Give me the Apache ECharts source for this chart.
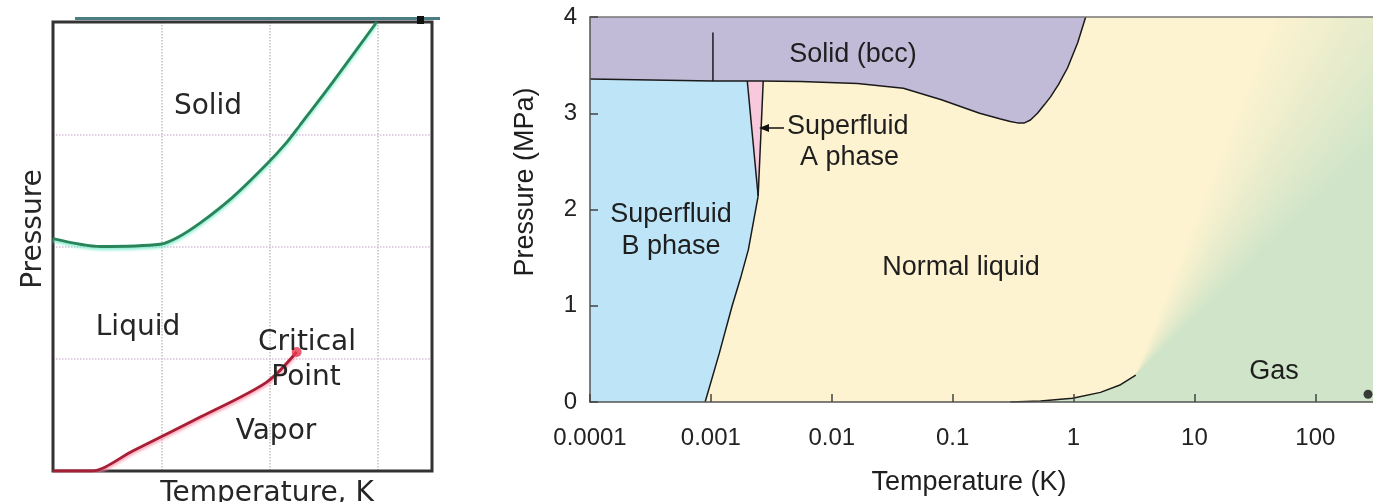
<!DOCTYPE html>
<html>
<head>
<meta charset="utf-8">
<script src="https://cdn.jsdelivr.net/npm/echarts@6/dist/echarts.min.js"></script>
<style>
html, body { margin: 0; padding: 0; background: #fff; }
#chart { width: 1373px; height: 502px; }
</style>
</head>
<body>
<div id="chart"></div>
<script>
// left panel: generic phase diagram (no units)
var fusionCurve = [[0, 2.07], [0.44, 2.0], [0.99, 2.02], [1.15, 2.08], [1.36, 2.21], [1.66, 2.44], [1.97, 2.73], [2.16, 2.93], [2.28, 3.08], [2.58, 3.46], [2.99, 4.0]];
var boilingCurve = [[0, 0], [0.35, 0], [0.74, 0.18], [1.36, 0.48], [1.97, 0.79], [2.25, 1.06]];
var criticalPoint = [[2.25, 1.06]];

// right panel: helium-3, T in K (log), P in MPa
var tempTicks = ['0.0001', '0.001', '0.01', '0.1', '1', '10', '100'];
var meltingCurve = [[0.0001, 3.356], [0.00104, 3.335], [0.00256, 3.335], [0.0055, 3.33], [0.0163, 3.31], [0.0391, 3.26], [0.0807, 3.14], [0.167, 3.0], [0.249, 2.94], [0.30, 2.915], [0.344, 2.90], [0.393, 2.90], [0.44, 2.93], [0.503, 3.0], [0.575, 3.09], [0.645, 3.17], [0.752, 3.30], [0.891, 3.47], [1.08, 3.73], [1.26, 4.0]];
var tcCurve = [[0.000896, 0], [0.00117, 0.5], [0.0015, 1.0], [0.00178, 1.31], [0.00204, 1.58], [0.00246, 2.14]];
var abCurve = [[0.00246, 2.14], [0.0020, 3.335]];
var tcUpper = [[0.00246, 2.14], [0.00271, 3.335]];
var vaporCurve = [[0.30, 0], [0.533, 0.01], [0.98, 0.04], [1.67, 0.10], [2.45, 0.18], [3.27, 0.28]];
var bccLine = [[0.00104, 3.335], [0.00104, 3.84]];
var roomPoint = [[273, 0.08]];

var tMin = 0.0001, tMax = 300;

var liquidPoly = [[tMin, 0], [tMax, 0], [tMax, 4], [tMin, 4]];
var solidPoly = [[tMin, 4], [1.26, 4]].concat(meltingCurve.slice().reverse());
var bPhasePoly = [[tMin, 0]].concat(tcCurve, [abCurve[1]], [[0.00104, 3.335], [tMin, 3.356]]);
var aPhasePoly = [abCurve[0], abCurve[1], tcUpper[1]];
var gasPoly = vaporCurve.concat([[vaporCurve[vaporCurve.length - 1][0], 0]]);

var yellow = [254, 243, 208], green = [207, 228, 200];

function mix(t) {
    var c = yellow.map(function (v, i) { return Math.round(v + (green[i] - v) * t); });
    return 'rgb(' + c.join(',') + ')';
}

function region(points, color) {
    return {
        type: 'custom', xAxisIndex: 1, yAxisIndex: 1, clip: true, silent: true, z: 2,
        data: [points[0]],
        renderItem: function (params, api) {
            return {
                type: 'polygon',
                shape: {points: points.map(function (p) { return api.coord(p); })},
                style: {fill: color}
            };
        }
    };
}

// fan of overlapping wedges from the critical point: yellow -> green
var gasFan = {
    type: 'custom', xAxisIndex: 1, yAxisIndex: 1, clip: true, silent: true, z: 2,
    data: [vaporCurve[vaporCurve.length - 1]],
    renderItem: function (params, api) {
        var c = api.coord(vaporCurve[vaporCurve.length - 1]);
        var R = 1500, steps = 40, a0 = 20, a1 = 46, kids = [];
        function ray(deg) {
            var r = deg * Math.PI / 180;
            return [c[0] + R * Math.sin(r), c[1] - R * Math.cos(r)];
        }
        for (var i = 0; i <= steps; i++) {
            var t = i / steps;
            var a = a0 + (a1 - a0) * t;
            var pts = [c];
            for (var b = a; b < 180; b += 10) pts.push(ray(b));
            pts.push(ray(180));
            kids.push({type: 'polygon', shape: {points: pts}, style: {fill: mix(t)}});
        }
        return {type: 'group', children: kids};
    }
};

function blackLine(data) {
    return {
        type: 'line', xAxisIndex: 1, yAxisIndex: 1, data: data, symbol: 'none', z: 5,
        silent: true, lineStyle: {color: '#1a1a1a', width: 1.5}
    };
}

function txt(s, x, y, font, opts) {
    var o = {
        type: 'text', x: x, y: y, z: 100, silent: true,
        style: {text: s, font: font, fill: '#1e1e1e', align: 'center', verticalAlign: 'middle'}
    };
    if (opts) {
        if (opts.rotation) o.rotation = opts.rotation;
        if (opts.align) o.style.align = opts.align;
        if (opts.fill) o.style.fill = opts.fill;
    }
    return o;
}

var leftFont = '28px "DejaVu Sans"';
var rightFont = '27px "Liberation Sans"';

var chart = echarts.init(document.getElementById('chart'));

chart.setOption({
    animation: false,
    grid: [
        {left: 53, top: 22, width: 379, height: 449},
        {left: 590, top: 17, width: 783, height: 385}
    ],
    xAxis: [
        {
            gridIndex: 0, type: 'value', min: 0, max: 3.5, interval: 1,
            axisLine: {show: false}, axisTick: {show: false}, axisLabel: {show: false},
            splitLine: {lineStyle: {type: 'dotted', color: '#c2c2c2', width: 1.5}}
        },
        {
            gridIndex: 1, type: 'log', logBase: 10, min: tMin, max: tMax, z: 10,
            axisLine: {lineStyle: {color: '#555', width: 1.5}},
            axisTick: {inside: true, length: 8, lineStyle: {color: '#444', width: 1.5}},
            axisLabel: {
                fontSize: 24, fontFamily: 'Liberation Sans', color: '#222', margin: 24, showMaxLabel: false,
                formatter: function (v) { return tempTicks[Math.round(Math.log10(v)) + 4] || ''; }
            },
            splitLine: {show: false}
        },
        {
            gridIndex: 1, type: 'log', logBase: 10, min: tMin, max: tMax, position: 'top', z: 10,
            axisLine: {lineStyle: {color: '#777', width: 1.5}},
            axisTick: {show: false}, axisLabel: {show: false}, splitLine: {show: false}
        }
    ],
    yAxis: [
        {
            gridIndex: 0, type: 'value', min: 0, max: 4, interval: 1,
            axisLine: {show: false}, axisTick: {show: false}, axisLabel: {show: false},
            splitLine: {lineStyle: {type: 'dotted', color: '#d6bfd9', width: 1.5}}
        },
        {
            gridIndex: 1, type: 'value', min: 0, max: 4, interval: 1, z: 10,
            axisLine: {show: true, lineStyle: {color: '#555', width: 1.5}},
            axisTick: {show: true, inside: true, length: 8, lineStyle: {color: '#444', width: 1.5}},
            axisLabel: {fontSize: 24, fontFamily: 'Liberation Sans', color: '#222', margin: 13},
            splitLine: {show: false}
        }
    ],
    series: [
        {
            type: 'line', xAxisIndex: 0, yAxisIndex: 0, data: fusionCurve, smooth: 0.3, symbol: 'none', z: 5,
            lineStyle: {color: '#2a845a', width: 2.8, shadowColor: 'rgba(110,235,200,0.9)', shadowBlur: 3, shadowOffsetY: 2}
        },
        {
            type: 'line', xAxisIndex: 0, yAxisIndex: 0, data: boilingCurve, smooth: 0.3, symbol: 'none', z: 5,
            lineStyle: {color: '#a51f36', width: 2.8, shadowColor: 'rgba(255,130,160,0.9)', shadowBlur: 3, shadowOffsetY: 2}
        },
        {
            type: 'scatter', xAxisIndex: 0, yAxisIndex: 0, data: criticalPoint, symbolSize: 10, z: 6,
            itemStyle: {color: '#e8344e'}
        },
        region(liquidPoly, 'rgb(254,243,208)'),
        gasFan,
        region(gasPoly, mix(1)),
        region(solidPoly, '#c1bbd8'),
        region(bPhasePoly, '#bee5f7'),
        region(aPhasePoly, '#f8c8dc'),
        blackLine(meltingCurve),
        blackLine(tcCurve),
        blackLine(abCurve),
        blackLine(tcUpper),
        blackLine(vaporCurve),
        blackLine(bccLine),
        {
            type: 'scatter', xAxisIndex: 1, yAxisIndex: 1, data: roomPoint, symbolSize: 9, z: 6,
            itemStyle: {color: '#111'}
        }
    ],
    graphic: [
        {type: 'line', z: 100, silent: true, shape: {x1: 75, y1: 18.5, x2: 440, y2: 18.5}, style: {stroke: '#4d7d84', lineWidth: 3}},
        {type: 'rect', z: 1, silent: true, shape: {x: 53, y: 22, width: 379, height: 449}, style: {fill: 'none', stroke: '#333', lineWidth: 3}},
        {type: 'rect', z: 101, silent: true, shape: {x: 417, y: 16, width: 7, height: 8}, style: {fill: '#111'}},
        txt('Solid', 208, 107, leftFont, {fill: '#262626'}),
        txt('Liquid', 138, 328, leftFont, {fill: '#262626'}),
        txt('Critical', 307, 343, leftFont, {fill: '#262626'}),
        txt('Point', 306, 378, leftFont, {fill: '#262626'}),
        txt('Vapor', 276, 432, leftFont, {fill: '#262626'}),
        txt('Pressure', 34, 229, leftFont, {rotation: Math.PI / 2, fill: '#262626'}),
        txt('Temperature, K', 267, 494, leftFont, {fill: '#262626'}),

        txt('Solid (bcc)', 853, 55, rightFont),
        txt('Superfluid', 787, 127, rightFont, {align: 'left'}),
        txt('A phase', 800, 158, rightFont, {align: 'left'}),
        txt('Superfluid', 671, 215, rightFont),
        txt('B phase', 671, 247, rightFont),
        txt('Normal liquid', 961, 268, rightFont),
        txt('Gas', 1274, 372, rightFont),
        txt('Temperature (K)', 969, 483, rightFont),
        txt('Pressure (MPa)', 526, 182, rightFont, {rotation: Math.PI / 2}),
        {type: 'line', z: 100, silent: true, shape: {x1: 766, y1: 128, x2: 784, y2: 128}, style: {stroke: '#111', lineWidth: 1.5}},
        {type: 'polygon', z: 100, silent: true, shape: {points: [[759, 128], [769, 124], [769, 132]]}, style: {fill: '#111'}}
    ]
});
</script>
</body>
</html>
